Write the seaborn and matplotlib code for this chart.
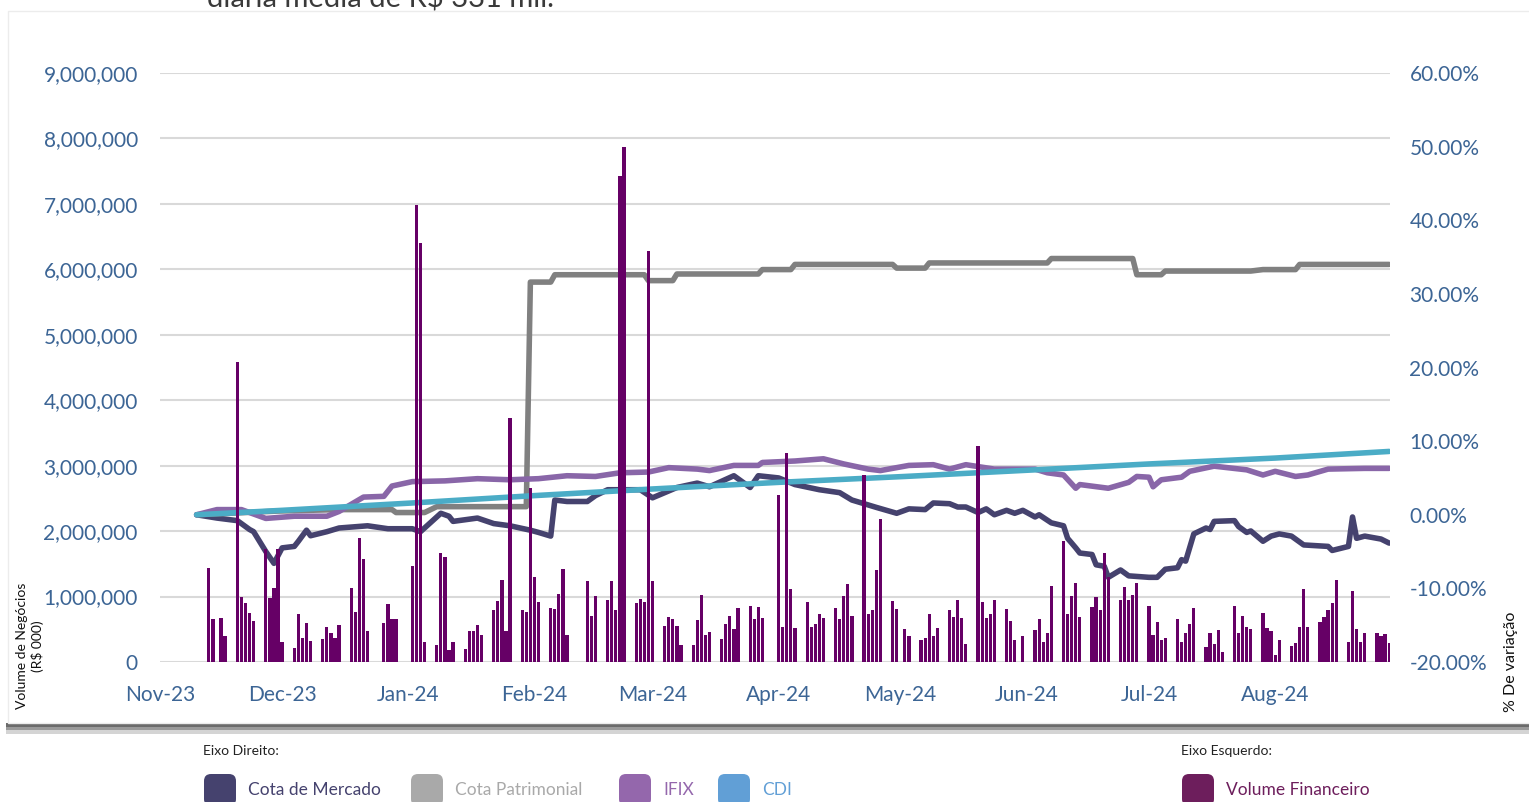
import pandas as pd
import numpy as np
import matplotlib.pyplot as plt
import matplotlib.dates as mdates
import matplotlib.ticker as mticker
from matplotlib.patches import FancyBboxPatch, Rectangle
from matplotlib.transforms import IdentityTransform
import seaborn as sns

sns.set_style("white")
plt.rcParams['font.family'] = ['Lato', 'DejaVu Sans']

# ---- dados ----
# volume diário (R$ milhões), pregões de 13/11/2023 a 29/08/2024
vol_mi = [
    1.44, 0.65, 0.67, 0.39,
    4.58, 0.99, 0.90, 0.75, 0.62,
    1.72, 0.98, 1.13, 1.72, 0.30,
    0.22, 0.73, 0.36, 0.59, 0.32,
    0.35, 0.53, 0.45, 0.36, 0.57,
    1.13, 0.77, 1.89, 1.58, 0.48,
    0.59, 0.89, 0.65, 0.65,
    1.47, 6.98, 6.40, 0.31,
    0.26, 1.66, 1.61, 0.18, 0.30,
    0.20, 0.47, 0.47, 0.57, 0.41,
    0.80, 0.93, 1.25, 0.48, 3.73,
    0.80, 0.76, 2.66, 1.30, 0.91,
    0.83, 0.81, 1.04, 1.42, 0.41,
    1.24, 0.71, 1.01,
    0.94, 1.24, 0.80, 7.43, 7.87,
    0.90, 0.96, 0.92, 6.28, 1.24,
    0.55, 0.69, 0.65, 0.55, 0.26,
    0.26, 0.64, 1.03, 0.42, 0.46,
    0.35, 0.58, 0.71, 0.51, 0.82,
    0.86, 0.65, 0.84, 0.67,
    2.55, 0.54, 3.19, 1.11, 0.52,
    0.92, 0.54, 0.58, 0.74, 0.67,
    0.83, 0.65, 1.01, 1.19, 0.71,
    2.85, 0.74, 0.79, 1.41, 2.19,
    0.93, 0.81, 0.51, 0.39,
    0.34, 0.37, 0.73, 0.39, 0.52,
    0.79, 0.69, 0.94, 0.67, 0.28,
    3.30, 0.92, 0.67, 0.74, 0.95,
    0.81, 0.63, 0.33, 0.40,
    0.49, 0.66, 0.30, 0.45, 1.16,
    1.85, 0.73, 1.01, 1.20, 0.69,
    0.84, 1.00, 0.79, 1.67, 1.30,
    0.94, 1.14, 0.94, 1.02, 1.20,
    0.85, 0.42, 0.61, 0.34, 0.37,
    0.65, 0.30, 0.44, 0.58, 0.82,
    0.23, 0.44, 0.28, 0.49, 0.16,
    0.85, 0.44, 0.70, 0.53, 0.50,
    0.75, 0.52, 0.47, 0.10, 0.33,
    0.25, 0.29, 0.53, 1.12, 0.54,
    0.61, 0.68, 0.79, 0.90, 1.26,
    0.31, 1.09, 0.50, 0.30, 0.44,
    0.45, 0.39, 0.43, 0.29,
]
feriados = ['2023-11-15', '2023-12-25', '2024-01-01', '2024-02-12',
            '2024-02-13', '2024-03-29', '2024-05-01', '2024-05-30']
pregoes = pd.bdate_range('2023-11-13', '2024-08-29')
pregoes = pregoes[~pregoes.isin(pd.to_datetime(feriados))]

mercado_dt = ['2023-11-10', '2023-11-15', '2023-11-20', '2023-11-23', '2023-11-24', '2023-11-27',
              '2023-11-29', '2023-12-01', '2023-12-04', '2023-12-05', '2023-12-07', '2023-12-08',
              '2023-12-12', '2023-12-15', '2023-12-22', '2023-12-27', '2024-01-02', '2024-01-04',
              '2024-01-05', '2024-01-09', '2024-01-11', '2024-01-12', '2024-01-18', '2024-01-22',
              '2024-01-26', '2024-01-31', '2024-02-02', '2024-02-05', '2024-02-06', '2024-02-09',
              '2024-02-14', '2024-02-16', '2024-02-19', '2024-02-27', '2024-03-01', '2024-03-07',
              '2024-03-12', '2024-03-15', '2024-03-21', '2024-03-25', '2024-03-27', '2024-04-01',
              '2024-04-05', '2024-04-11', '2024-04-16', '2024-04-19', '2024-04-25', '2024-04-30',
              '2024-05-03', '2024-05-07', '2024-05-09', '2024-05-13', '2024-05-15', '2024-05-17',
              '2024-05-20', '2024-05-22', '2024-05-24', '2024-05-27', '2024-05-29', '2024-05-31',
              '2024-06-03', '2024-06-04', '2024-06-07', '2024-06-10', '2024-06-11', '2024-06-13',
              '2024-06-14', '2024-06-17', '2024-06-18', '2024-06-20', '2024-06-21', '2024-06-24',
              '2024-06-26', '2024-07-01', '2024-07-03', '2024-07-05', '2024-07-08', '2024-07-09',
              '2024-07-10', '2024-07-12', '2024-07-15', '2024-07-16', '2024-07-17', '2024-07-22',
              '2024-07-23', '2024-07-25', '2024-07-26', '2024-07-29', '2024-07-31', '2024-08-02',
              '2024-08-05', '2024-08-08', '2024-08-14', '2024-08-15', '2024-08-19', '2024-08-20',
              '2024-08-21', '2024-08-23', '2024-08-27', '2024-08-29']
mercado = [0.0, -0.45, -0.8, -2.0, -2.3, -5.0,
           -6.6, -4.5, -4.3, -3.6, -2.1, -2.85,
           -2.3, -1.8, -1.5, -1.9, -1.9, -2.3,
           -1.8, 0.2, -0.2, -0.9, -0.45, -1.2,
           -1.5, -2.1, -2.4, -2.9, 2.0, 1.8,
           1.8, 2.6, 3.4, 3.4, 2.3, 3.7,
           4.3, 3.8, 5.3, 3.7, 5.3, 5.0,
           4.1, 3.4, 3.0, 2.0, 1.0, 0.2,
           0.8, 0.7, 1.6, 1.5, 1.05, 1.05,
           0.3, 0.8, 0.0, 0.6, 0.2, 0.6,
           -0.3, 0.0, -1.1, -1.5, -3.2, -4.5,
           -5.2, -5.4, -6.8, -7.0, -8.5, -7.5,
           -8.3, -8.5, -8.5, -7.4, -7.2, -6.1,
           -6.3, -2.6, -1.8, -2.0, -0.9, -0.8,
           -1.6, -2.4, -2.2, -3.6, -2.9, -2.6,
           -2.9, -4.1, -4.3, -4.85, -4.3, -0.3,
           -3.2, -2.9, -3.3, -3.85]

patrim_dt = ['2023-11-10', '2023-11-30', '2023-12-15', '2023-12-28', '2023-12-29', '2024-01-05',
             '2024-01-08', '2024-01-30', '2024-01-31', '2024-02-05', '2024-02-06', '2024-02-28',
             '2024-02-29', '2024-03-06', '2024-03-07', '2024-03-27', '2024-03-28', '2024-04-04',
             '2024-04-05', '2024-04-29', '2024-04-30', '2024-05-07', '2024-05-08', '2024-06-06',
             '2024-06-07', '2024-06-27', '2024-06-28', '2024-07-04', '2024-07-05', '2024-07-26',
             '2024-07-29', '2024-08-06', '2024-08-07', '2024-08-29']
patrim = [0.0, 0.5, 0.7, 0.7, 0.3, 0.3,
          1.1, 1.1, 31.6, 31.6, 32.6, 32.6,
          31.8, 31.8, 32.7, 32.7, 33.3, 33.3,
          34.0, 34.0, 33.5, 33.5, 34.2, 34.2,
          34.8, 34.8, 32.6, 32.6, 33.1, 33.1,
          33.3, 33.3, 34.0, 34.0]

ifix_dt = ['2023-11-10', '2023-11-15', '2023-11-21', '2023-11-27', '2023-12-04', '2023-12-12',
           '2023-12-15', '2023-12-21', '2023-12-26', '2023-12-28', '2024-01-02', '2024-01-10',
           '2024-01-18', '2024-01-26', '2024-02-02', '2024-02-09', '2024-02-16', '2024-02-22',
           '2024-02-29', '2024-03-05', '2024-03-12', '2024-03-15', '2024-03-21', '2024-03-27',
           '2024-03-28', '2024-04-05', '2024-04-12', '2024-04-17', '2024-04-23', '2024-04-26',
           '2024-05-03', '2024-05-09', '2024-05-13', '2024-05-17', '2024-05-24', '2024-06-03',
           '2024-06-06', '2024-06-10', '2024-06-13', '2024-06-14', '2024-06-21', '2024-06-26',
           '2024-06-28', '2024-07-01', '2024-07-02', '2024-07-04', '2024-07-09', '2024-07-11',
           '2024-07-17', '2024-07-25', '2024-07-29', '2024-08-01', '2024-08-06', '2024-08-09',
           '2024-08-14', '2024-08-23', '2024-08-29']
ifix = [0.0, 0.7, 0.7, -0.5, -0.2, -0.2,
        0.45, 2.4, 2.5, 3.9, 4.5, 4.6,
        4.9, 4.75, 4.9, 5.3, 5.2, 5.7,
        5.8, 6.4, 6.2, 6.0, 6.7, 6.7,
        7.1, 7.3, 7.6, 6.9, 6.2, 6.0,
        6.7, 6.8, 6.2, 6.8, 6.2, 6.2,
        5.7, 5.4, 3.6, 4.1, 3.6, 4.4,
        5.2, 5.1, 3.8, 4.75, 5.1, 5.9,
        6.6, 6.1, 5.4, 5.9, 5.2, 5.4,
        6.2, 6.3, 6.3]

cdi_dt = ['2023-11-10', '2023-12-01', '2024-01-02', '2024-02-01', '2024-03-01', '2024-04-01',
          '2024-05-02', '2024-06-03', '2024-07-01', '2024-08-01', '2024-08-29']
cdi = [0.0, 0.6, 1.6, 2.6, 3.5, 4.4, 5.2, 6.1, 6.9, 7.7, 8.6]

# ---- figura ----
W, H = 1529, 802
fig = plt.figure(figsize=(W / 100, H / 100), dpi=100)
fig.patch.set_facecolor('white')


def fx(x, y):
    return x / W, 1 - y / H


# cartão com sombra
px = IdentityTransform()
for y0, y1, c in [(723, 727, '#6b6b6b'), (727, 730, '#9a9a9a'), (730, 734, '#d4d4d4')]:
    fig.add_artist(Rectangle((6, H - y1), W, y1 - y0, transform=px, facecolor=c,
                             edgecolor='none', zorder=-3))
fig.add_artist(Rectangle((8, H - 723), W, 712, transform=px, facecolor='white',
                         edgecolor='#ececec', linewidth=1, zorder=-2))

# título cortado no topo, como no original
fig.text(*fx(207, 7), 'diária média de R$ 331 mil.', fontsize=21, color='#3a3a3a',
         ha='left', va='baseline')

ax = fig.add_axes([160 / W, (H - 662) / H, 1230 / W, 589 / H])
ax.set_facecolor('none')
axl = ax.twinx()
axb = ax.twinx()

blue = '#3C6595'

# linhas (eixo direito)
series = [(mercado_dt, mercado, '#45426E'),
          (patrim_dt, patrim, '#808080'),
          (ifix_dt, ifix, '#8966A8'),
          (cdi_dt, cdi, '#4BACC6')]
for dts, vals, col in series:
    sns.lineplot(x=pd.to_datetime(dts), y=vals, ax=axl, color=col, linewidth=4.0,
                 solid_capstyle='round', solid_joinstyle='round')

# barras (eixo esquerdo)
vol = np.array(vol_mi) * 1e6
axb.bar(pregoes, vol, width=0.8, color='#660066', linewidth=0)

xmin, xmax = pd.Timestamp('2023-11-01'), pd.Timestamp('2024-08-29 05:00')
ax.set_xlim(xmin, xmax)
ax.set_ylim(0, 9e6)
axb.set_ylim(0, 9e6)
axl.set_ylim(-20, 60)

ax.set_yticks(np.arange(0, 9e6 + 1, 1e6))
ax.yaxis.set_major_formatter(mticker.FuncFormatter(lambda v, p: f'{int(v):,}'))
ax.grid(axis='y', color='#d9d9d9', linewidth=1.5)
ax.grid(axis='x', visible=False)

axl.set_yticks(np.arange(-20, 61, 10))
axl.yaxis.set_major_formatter(mticker.FuncFormatter(lambda v, p: f'{v:.2f}%'))
axl.set_ylabel('')
axl.set_xlabel('')

ax.xaxis.set_major_locator(mdates.MonthLocator())
ax.xaxis.set_major_formatter(mdates.DateFormatter('%b-%y'))

ax.tick_params(axis='y', length=0, pad=16, labelsize=15, labelcolor=blue)
ax.tick_params(axis='x', length=0, pad=16.5, labelsize=15, labelcolor=blue)
axl.tick_params(axis='y', length=0, pad=14, labelsize=15, labelcolor=blue)
axb.yaxis.set_visible(False)
axb.xaxis.set_visible(False)

for a in (ax, axl, axb):
    for s in a.spines.values():
        s.set_visible(False)

# títulos dos eixos
fig.text(*fx(30, 646), 'Volume de Negócios\n(R$ 000)', rotation=90, ha='center',
         va='center', multialignment='center', fontsize=10, linespacing=1.35, color='#111111')
fig.text(*fx(1511, 662), '% De variação', rotation=90, ha='center', va='center',
         fontsize=11.5, color='#111111')

# legenda
fig.text(*fx(203, 751), 'Eixo Direito:', fontsize=10, color='#222222', va='center')
fig.text(*fx(1181, 751), 'Eixo Esquerdo:', fontsize=10, color='#222222', va='center')
leg = [(204, 'Cota de Mercado', '#45426E', '#45426E'),
       (411, 'Cota Patrimonial', '#A9A9A9', '#A9A9A9'),
       (619, 'IFIX', '#9467AC', '#9467AC'),
       (718, 'CDI', '#619FD6', '#619FD6'),
       (1182, 'Volume Financeiro', '#6D1E5C', '#6D1E5C')]
for x0, lab, fc, tc in leg:
    fig.add_artist(FancyBboxPatch((x0, H - 806), 32, 32, transform=px,
                                  boxstyle='round,pad=0,rounding_size=7',
                                  facecolor=fc, edgecolor='none'))
    fig.text(*fx(x0 + 44, 790), lab, fontsize=12.5, color=tc, va='center')

fig.savefig('out.png', dpi=100)
